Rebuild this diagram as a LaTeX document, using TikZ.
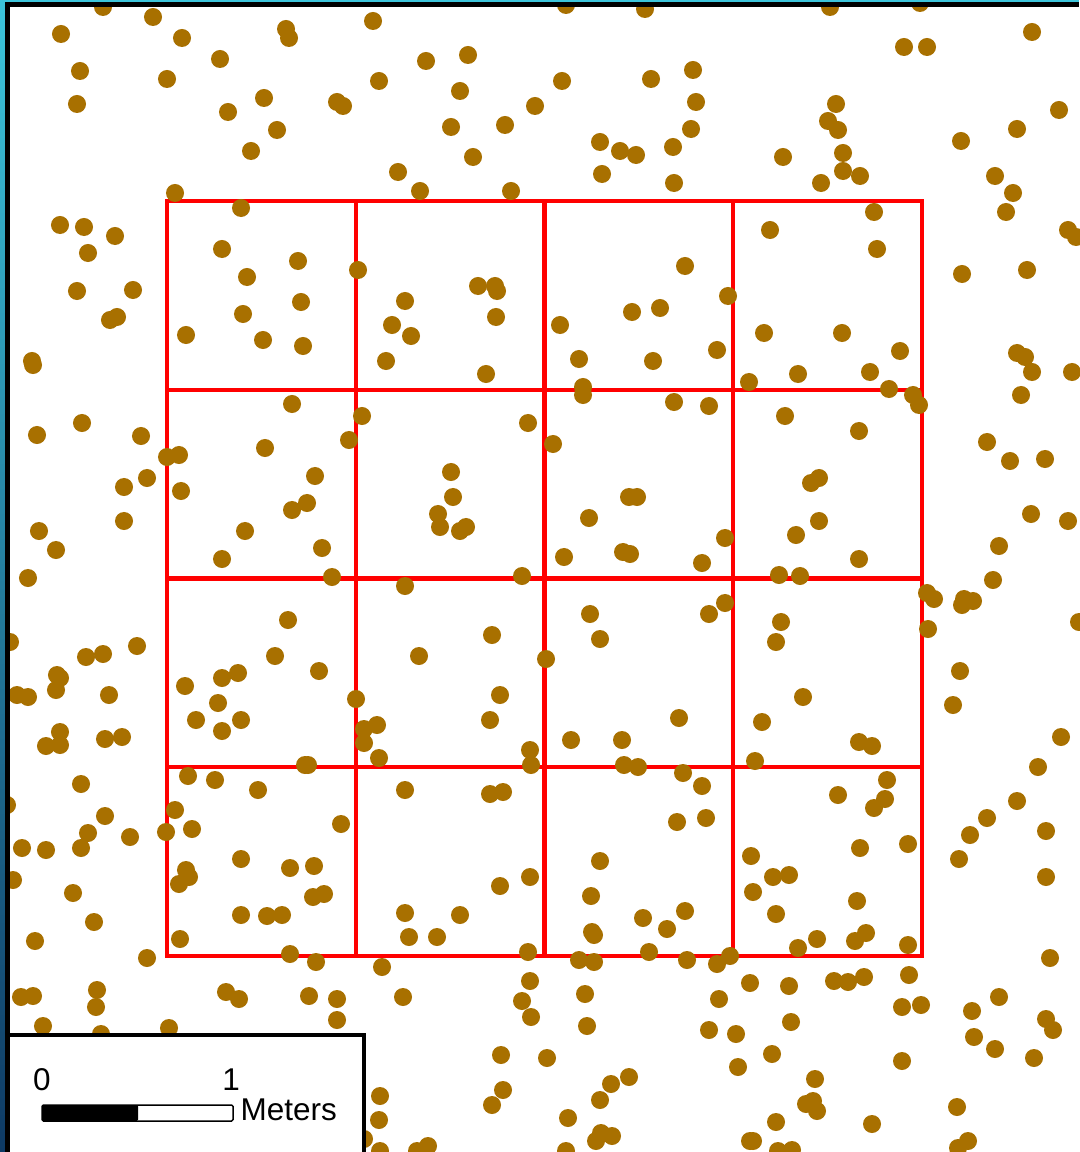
\documentclass[tikz,border=0pt]{standalone}
\usepackage{fontspec}
\setmainfont{Liberation Sans}
\definecolor{pt}{RGB}{168,112,0}
\definecolor{quad}{RGB}{255,0,0}
\definecolor{rimtop}{RGB}{60,196,218}
\definecolor{rimbot}{RGB}{14,58,100}

\begin{document}
\begin{tikzpicture}[x=0.01cm, y=-0.01cm, every node/.style={font=\fontsize{8.95}{10}\selectfont, inner sep=0pt}]
\useasboundingbox (0,0) rectangle (1079,1152);
\fill[white] (0,0) rectangle (1079,1152);
% ---- quadrats
\foreach \k in {1,2,3} {
  \draw[quad, line width=0.042cm] ({167+188.75*\k},201) -- ({167+188.75*\k},956);
  \draw[quad, line width=0.042cm] (167,{201+188.75*\k}) -- (922,{201+188.75*\k});
}
\draw[quad, line width=0.042cm] (167,201) rectangle (922,956);
% ---- points
\foreach \px/\py in {
103/7,153/17,61/34,182/38,286/29,289/38,373/21,220/59,80/71,167/79,426/61,468/55,379/81,460/91,77/104,
228/112,264/98,337/102,343/106,451/127,505/125,535/106,277/130,251/151,473/157,398/172,420/191,511/191,175/193,
566/5,645/9,830/7,920/3,1032/32,904/47,927/47,562/81,651/79,693/70,696/102,836/104,828/121,838/130,1059/110,
1017/129,961/141,600/142,620/151,636/155,673/147,691/129,602/174,674/183,783/157,843/153,843/171,860/176,821/183,
995/176,1013/193,
241/208,60/225,84/227,115/236,88/253,222/249,298/261,247/277,358/270,478/286,495/286,497/291,77/291,133/290,
1006/212,1068/230,1076/237,874/212,877/249,770/230,685/266,962/274,1027/270,
110/320,117/317,32/361,33/365,186/335,243/314,263/340,301/302,303/346,405/301,392/325,411/336,386/361,496/317,
486/374,37/435,82/423,141/436,167/457,179/455,181/491,147/478,124/487,124/521,39/531,56/550,28/578,292/404,
265/448,315/476,307/503,292/510,245/531,222/559,322/548,332/577,362/416,349/440,528/423,451/472,453/497,438/514,
440/527,460/531,466/527,522/576,
728/296,560/325,632/312,660/308,579/359,653/361,717/350,583/387,583/395,674/402,709/406,553/444,764/333,842/333,
900/351,870/372,798/374,749/382,889/389,913/395,919/405,785/416,859/431,1017/353,1025/357,1032/372,1072/372,
1021/395,987/442,1010/461,1045/459,629/497,637/497,589/518,811/483,819/478,819/521,796/535,725/538,564/557,
623/552,630/554,702/563,859/559,1031/514,1068/521,999/546,993/580,779/575,800/576,
405/586,10/642,86/657,103/654,137/646,57/675,60/678,56/690,17/695,28/697,109/695,60/732,60/745,46/746,105/739,
122/737,81/784,7/805,105/816,88/833,81/848,22/848,46/850,130/837,166/832,175/810,192/829,188/776,215/780,
258/790,341/824,241/859,185/686,222/678,238/673,218/703,196/720,222/731,241/720,275/656,288/620,319/671,356/699,
364/729,377/725,364/743,379/758,305/765,308/765,492/635,419/656,500/695,490/720,530/750,531/765,405/790,490/794,
503/792,
590/614,600/639,546/659,709/614,725/603,781/622,776/642,927/593,934/599,964/599,973/601,962/605,928/629,1079/622,
960/671,953/705,803/697,679/718,762/722,571/740,622/740,624/765,638/767,755/761,859/742,872/746,1061/737,
1038/767,683/773,702/786,887/780,885/799,874/808,838/795,1017/801,987/818,970/835,1046/831,677/822,706/818,
860/848,908/844,751/856,600/861,959/859,
13/880,73/893,94/922,35/941,147/958,186/870,189/877,179/884,290/868,314/866,313/897,324/894,241/915,267/916,
282/915,180/939,290/954,316/962,500/886,530/877,405/913,409/937,437/937,460/915,528/952,382/967,403/997,530/981,
522/1001,531/1017,21/997,33/996,97/990,96/1007,43/1026,101/1034,169/1028,226/992,239/999,309/996,337/999,
337/1020,380/1096,379/1120,364/1139,428/1146,417/1151,380/1151,501/1055,503/1090,492/1105,547/1058,
1046/877,591/896,592/932,594/935,643/918,667/929,685/911,649/952,687/960,579/960,594/962,717/964,730/956,
773/877,789/875,753/892,776/914,857/901,817/939,798/948,855/941,866/933,908/945,909/975,834/981,848/982,
864/977,750/983,789/986,1050/958,902/1007,921/1005,585/994,587/1026,719/999,709/1030,736/1034,791/1022,
772/1054,738/1067,815/1079,806/1104,813/1101,817/1111,776/1122,872/1124,902/1061,972/1011,999/997,974/1037,
995/1049,1046/1019,1053/1030,1034/1058,957/1107,968/1141,958/1148,629/1077,611/1084,600/1100,568/1118,
601/1133,612/1136,596/1141,566/1151,750/1141,753/1141,778/1151,792/1150}
  \fill[pt] (\px,\py) circle[radius=0.09cm];
% ---- scale bar
\draw[line width=0.04cm, fill=white] (8,1035) rectangle (364,1160);
\filldraw[fill=white, line width=0.015cm, rounded corners=0.4pt] (42,1105) rectangle (233,1121);
\fill[black, rounded corners=0.4pt] (42,1105) rectangle (138,1121);
\node[anchor=base] (zero) at (42,1090) {0};
\node[anchor=base] (one) at (231,1090) {1};
\node[anchor=base west] (unit) at (240,1120) {Meters};
% ---- frame
\shade[top color=rimtop, bottom color=rimbot] (0,0) rectangle (5,1152);
\fill[rimtop] (0,0) rectangle (1079,2);
\draw[line width=0.05cm] (7.5,1152) -- (7.5,4.2) -- (1079,4.2);
\end{tikzpicture}
\end{document}
